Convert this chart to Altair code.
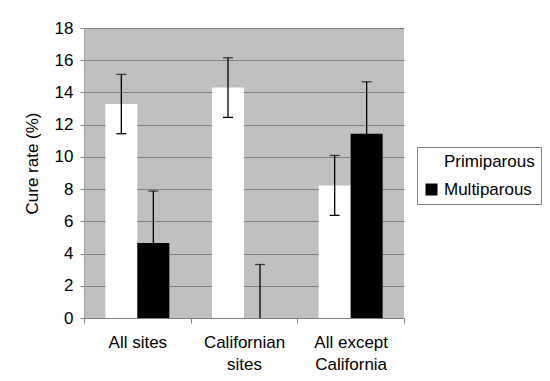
import altair as alt
import pandas as pd

categories = ["All sites", "Californian sites", "All except California"]
category_lines = ["All sites", "Californian|sites", "All except|California"]
groups = ["Primiparous", "Multiparous"]
primiparous = [13.28, 14.30, 8.23]
primiparous_err = [1.84, 1.85, 1.86]
multiparous = [4.65, 0.0, 11.44]
multiparous_err = [3.23, 3.32, 3.22]
y_ticks = [0, 2, 4, 6, 8, 10, 12, 14, 16, 18]

rows = []
for i, c in enumerate(category_lines):
    for g, vals, errs in [("Primiparous", primiparous, primiparous_err),
                          ("Multiparous", multiparous, multiparous_err)]:
        v, e = vals[i], errs[i]
        rows.append({"cat": c, "group": g, "value": v,
                     "lo": max(0.0, v - e), "hi": v + e})
df = pd.DataFrame(rows)

FONT = "Liberation Sans"
ERR = "#000000"

x_axis = alt.Axis(title=None, labelAngle=0, labelExpr="split(datum.label, '|')",
                  labelFontSize=17, labelFont=FONT, labelColor="black",
                  labelLineHeight=22, labelPadding=11, labelBaseline="top",
                  tickBand="extent", tickSize=5, tickColor="#808080",
                  domainColor="#808080", grid=False)
x_scale = alt.Scale(paddingInner=0, paddingOuter=0)
xo = alt.XOffset("group:N", sort=groups,
                 scale=alt.Scale(domain=groups, paddingOuter=0.667, paddingInner=0))
y_scale = alt.Scale(domain=[0, 18], nice=False, clamp=True)
y_axis = alt.Axis(title="Cure rate (%)", values=y_ticks, labelOverlap=False,
                  labelFontSize=17, labelFont=FONT, labelColor="black", labelPadding=7,
                  tickSize=4, tickColor="#808080", domainColor="#a0a0a0",
                  grid=True, gridColor="#808080", gridWidth=1,
                  titleFont=FONT, titleFontSize=17, titleFontWeight="normal",
                  titleColor="black", titleX=-52, titleY=135,
                  titleAlign="center", titleBaseline="middle")


def X():
    return alt.X("cat:N", sort=category_lines, scale=x_scale, axis=x_axis)


def Y(field):
    return alt.Y(field, scale=y_scale, axis=y_axis)


base = alt.Chart(df)

bars = base.mark_bar(strokeWidth=0).encode(
    x=X(),
    xOffset=xo,
    y=Y("value:Q"),
    color=alt.Color("group:N", sort=groups,
                    scale=alt.Scale(domain=groups, range=["#ffffff", "#000000"]),
                    legend=alt.Legend(title=None, orient="none", legendX=333, legendY=119,
                                      symbolType="square", symbolSize=144,
                                      symbolStrokeWidth=0, labelFont=FONT,
                                      labelFontSize=17, labelColor="black",
                                      labelOffset=4, rowPadding=10, padding=6,
                                      fillColor="white", strokeColor="#808080",
                                      cornerRadius=0)),
)

err_rule = base.mark_rule(color=ERR, strokeWidth=1.3).encode(
    x=X(), xOffset=xo, y=Y("lo:Q"), y2="hi:Q")
cap_hi = base.mark_tick(color=ERR, thickness=1.3, size=10).encode(
    x=X(), xOffset=xo, y=Y("hi:Q"))
cap_lo = base.mark_tick(color=ERR, thickness=1.3, size=10).encode(
    x=X(), xOffset=xo, y=Y("lo:Q"),
    opacity=alt.condition("datum.lo > 0", alt.value(1), alt.value(0)))

chart = alt.layer(bars, err_rule, cap_hi, cap_lo).properties(
    width=320, height=290,
    autosize=alt.AutoSizeParams(type="none"),
    padding={"left": 76, "top": 20, "right": 138, "bottom": 55},
    background="white",
).configure_view(fill="#c0c0c0", stroke=None)

chart.save("out.html", embed_options={"renderer": "svg", "actions": False})
